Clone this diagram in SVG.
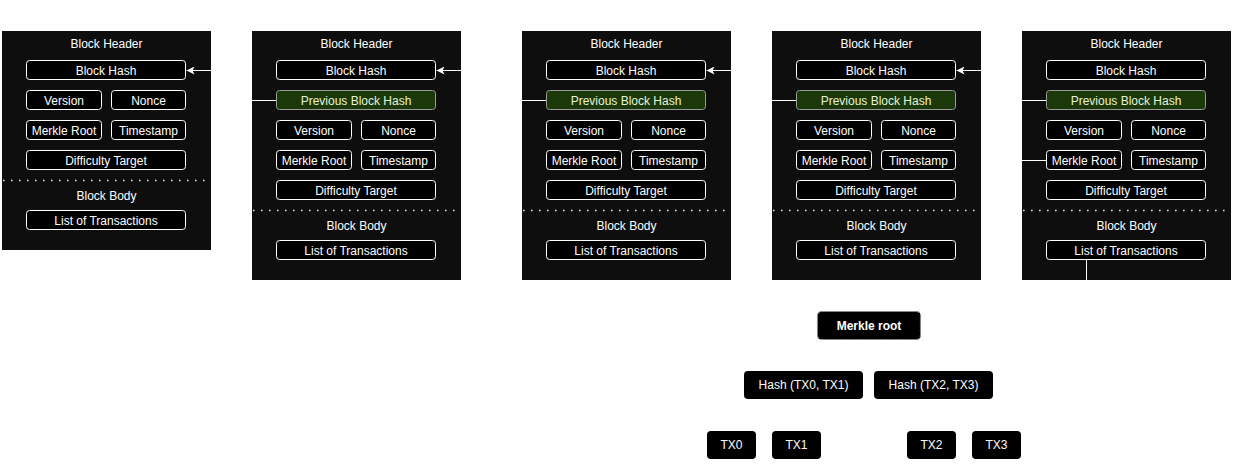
<svg xmlns="http://www.w3.org/2000/svg" width="1233" height="476" viewBox="0 0 1233 476">
<defs>
<style>
.blk{fill:#0e0e0e}
.f{fill:#000;stroke:#fff;stroke-width:1}
.pv{fill:#1b380b;stroke:#9a9a9a;stroke-width:1}
.t{font-family:"Liberation Sans",Arial,sans-serif;font-size:12px;fill:#fff;text-anchor:middle}
.tp{fill:#e6f2d6}
.dot{stroke:#ddd;stroke-width:1.6;stroke-dasharray:1.6 6.4;fill:none}
.cn{fill:none;stroke:#fff;stroke-width:1}
.mk{fill:#000;stroke:#8a8a8a;stroke-width:1.2;stroke-dasharray:3 2}
.mn{fill:#000}
</style>
<marker id="arr" viewBox="0 0 10 10" refX="10" refY="5" markerWidth="8" markerHeight="8" markerUnits="userSpaceOnUse" orient="auto">
<path d="M0,0 L10,5 L0,10 L2.5,5 Z" fill="#fff"/>
</marker>
</defs>
<rect width="1233" height="476" fill="#fff"/>

<g id="block1">
<rect class="blk" x="2" y="31" width="209" height="219"/>
<text class="t" x="106.5" y="48">Block Header</text>
<rect class="f" x="26.5" y="60.5" width="159" height="19" rx="3"/><text class="t" x="106" y="75">Block Hash</text>
<rect class="f" x="26.5" y="90.5" width="75" height="19" rx="3"/><text class="t" x="64" y="105">Version</text>
<rect class="f" x="111.5" y="90.5" width="74" height="19" rx="3"/><text class="t" x="148.5" y="105">Nonce</text>
<rect class="f" x="26.5" y="120.5" width="75" height="19" rx="3"/><text class="t" x="64" y="135">Merkle Root</text>
<rect class="f" x="111.5" y="120.5" width="74" height="19" rx="3"/><text class="t" x="148.5" y="135">Timestamp</text>
<rect class="f" x="26.5" y="150.5" width="159" height="19" rx="3"/><text class="t" x="106" y="165">Difficulty Target</text>
<line class="dot" x1="3" y1="180.5" x2="211" y2="180.5"/>
<text class="t" x="106.5" y="200">Block Body</text>
<rect class="f" x="26.5" y="210.5" width="159" height="19" rx="3"/><text class="t" x="106" y="225">List of Transactions</text>
</g>

<g id="block2">
<rect class="blk" x="252" y="31" width="209" height="249"/>
<text class="t" x="356.5" y="48">Block Header</text>
<rect class="f" x="276.5" y="60.5" width="159" height="19" rx="3"/><text class="t" x="356" y="75">Block Hash</text>
<rect class="pv" x="276.5" y="90.5" width="159" height="19" rx="3"/><text class="t tp" x="356" y="105">Previous Block Hash</text>
<rect class="f" x="276.5" y="120.5" width="75" height="19" rx="3"/><text class="t" x="314" y="135">Version</text>
<rect class="f" x="361.5" y="120.5" width="74" height="19" rx="3"/><text class="t" x="398.5" y="135">Nonce</text>
<rect class="f" x="276.5" y="150.5" width="75" height="19" rx="3"/><text class="t" x="314" y="165">Merkle Root</text>
<rect class="f" x="361.5" y="150.5" width="74" height="19" rx="3"/><text class="t" x="398.5" y="165">Timestamp</text>
<rect class="f" x="276.5" y="180.5" width="159" height="19" rx="3"/><text class="t" x="356" y="195">Difficulty Target</text>
<line class="dot" x1="253" y1="210.5" x2="461" y2="210.5"/>
<text class="t" x="356.5" y="230">Block Body</text>
<rect class="f" x="276.5" y="240.5" width="159" height="19" rx="3"/><text class="t" x="356" y="255">List of Transactions</text>
</g>

<g id="block3">
<rect class="blk" x="522" y="31" width="209" height="249"/>
<text class="t" x="626.5" y="48">Block Header</text>
<rect class="f" x="546.5" y="60.5" width="159" height="19" rx="3"/><text class="t" x="626" y="75">Block Hash</text>
<rect class="pv" x="546.5" y="90.5" width="159" height="19" rx="3"/><text class="t tp" x="626" y="105">Previous Block Hash</text>
<rect class="f" x="546.5" y="120.5" width="75" height="19" rx="3"/><text class="t" x="584" y="135">Version</text>
<rect class="f" x="631.5" y="120.5" width="74" height="19" rx="3"/><text class="t" x="668.5" y="135">Nonce</text>
<rect class="f" x="546.5" y="150.5" width="75" height="19" rx="3"/><text class="t" x="584" y="165">Merkle Root</text>
<rect class="f" x="631.5" y="150.5" width="74" height="19" rx="3"/><text class="t" x="668.5" y="165">Timestamp</text>
<rect class="f" x="546.5" y="180.5" width="159" height="19" rx="3"/><text class="t" x="626" y="195">Difficulty Target</text>
<line class="dot" x1="523" y1="210.5" x2="731" y2="210.5"/>
<text class="t" x="626.5" y="230">Block Body</text>
<rect class="f" x="546.5" y="240.5" width="159" height="19" rx="3"/><text class="t" x="626" y="255">List of Transactions</text>
</g>

<g id="block4">
<rect class="blk" x="772" y="31" width="209" height="249"/>
<text class="t" x="876.5" y="48">Block Header</text>
<rect class="f" x="796.5" y="60.5" width="159" height="19" rx="3"/><text class="t" x="876" y="75">Block Hash</text>
<rect class="pv" x="796.5" y="90.5" width="159" height="19" rx="3"/><text class="t tp" x="876" y="105">Previous Block Hash</text>
<rect class="f" x="796.5" y="120.5" width="75" height="19" rx="3"/><text class="t" x="834" y="135">Version</text>
<rect class="f" x="881.5" y="120.5" width="74" height="19" rx="3"/><text class="t" x="918.5" y="135">Nonce</text>
<rect class="f" x="796.5" y="150.5" width="75" height="19" rx="3"/><text class="t" x="834" y="165">Merkle Root</text>
<rect class="f" x="881.5" y="150.5" width="74" height="19" rx="3"/><text class="t" x="918.5" y="165">Timestamp</text>
<rect class="f" x="796.5" y="180.5" width="159" height="19" rx="3"/><text class="t" x="876" y="195">Difficulty Target</text>
<line class="dot" x1="773" y1="210.5" x2="981" y2="210.5"/>
<text class="t" x="876.5" y="230">Block Body</text>
<rect class="f" x="796.5" y="240.5" width="159" height="19" rx="3"/><text class="t" x="876" y="255">List of Transactions</text>
</g>

<g id="block5">
<rect class="blk" x="1022" y="31" width="209" height="249"/>
<text class="t" x="1126.5" y="48">Block Header</text>
<rect class="f" x="1046.5" y="60.5" width="159" height="19" rx="3"/><text class="t" x="1126" y="75">Block Hash</text>
<rect class="pv" x="1046.5" y="90.5" width="159" height="19" rx="3"/><text class="t tp" x="1126" y="105">Previous Block Hash</text>
<rect class="f" x="1046.5" y="120.5" width="75" height="19" rx="3"/><text class="t" x="1084" y="135">Version</text>
<rect class="f" x="1131.5" y="120.5" width="74" height="19" rx="3"/><text class="t" x="1168.5" y="135">Nonce</text>
<rect class="f" x="1046.5" y="150.5" width="75" height="19" rx="3"/><text class="t" x="1084" y="165">Merkle Root</text>
<rect class="f" x="1131.5" y="150.5" width="74" height="19" rx="3"/><text class="t" x="1168.5" y="165">Timestamp</text>
<rect class="f" x="1046.5" y="180.5" width="159" height="19" rx="3"/><text class="t" x="1126" y="195">Difficulty Target</text>
<line class="dot" x1="1023" y1="210.5" x2="1231" y2="210.5"/>
<text class="t" x="1126.5" y="230">Block Body</text>
<rect class="f" x="1046.5" y="240.5" width="159" height="19" rx="3"/><text class="t" x="1126" y="255">List of Transactions</text>
</g>

<g id="merkle-root"><rect class="mk" x="817.5" y="311.5" width="103" height="28" rx="4"/><text class="t" x="869" y="330" font-weight="bold">Merkle root</text></g>
<g id="hash01"><rect class="mn" x="744" y="371" width="119" height="28" rx="4"/><text class="t" x="803.5" y="389">Hash (TX0, TX1)</text></g>
<g id="hash23"><rect class="mn" x="874" y="371" width="119" height="28" rx="4"/><text class="t" x="933.5" y="389">Hash (TX2, TX3)</text></g>
<g id="tx0"><rect class="mn" x="707" y="431" width="49" height="28" rx="4"/><text class="t" x="731.5" y="449">TX0</text></g>
<g id="tx1"><rect class="mn" x="772" y="431" width="49" height="28" rx="4"/><text class="t" x="796.5" y="449">TX1</text></g>
<g id="tx2"><rect class="mn" x="907" y="431" width="49" height="28" rx="4"/><text class="t" x="931.5" y="449">TX2</text></g>
<g id="tx3"><rect class="mn" x="972" y="431" width="49" height="28" rx="4"/><text class="t" x="996.5" y="449">TX3</text></g>

<g id="connectors">
<path class="cn" d="M276,100.5 H231.5 V70.5 H186.5" marker-end="url(#arr)"/>
<path class="cn" d="M546,100.5 H491.5 V70.5 H436.5" marker-end="url(#arr)"/>
<path class="cn" d="M796,100.5 H751.5 V70.5 H706.5" marker-end="url(#arr)"/>
<path class="cn" d="M1046,100.5 H1001.5 V70.5 H956.5" marker-end="url(#arr)"/>
<path class="cn" d="M1046,160.5 H1001.5 V325.5 H921"/>
<path class="cn" d="M1086.5,260 V300"/>
</g>
</svg>
